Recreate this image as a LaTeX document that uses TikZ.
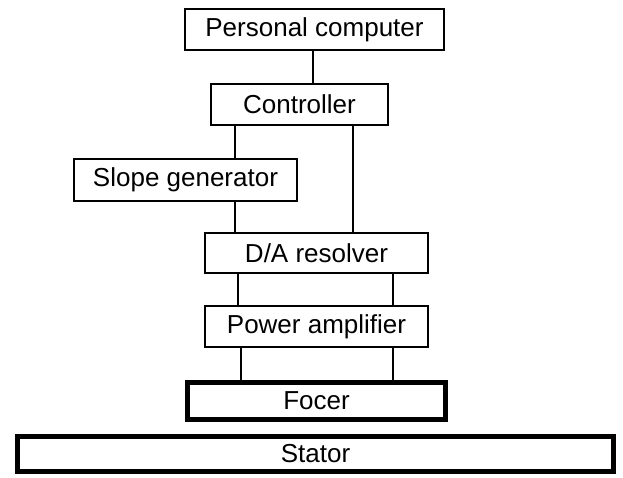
\documentclass[tikz,border=0pt]{standalone}
\usepackage{fontspec}
\setmainfont{Liberation Sans}
\begin{document}
\begin{tikzpicture}[x=1pt,y=-1pt,
  box/.style={draw=black,line width=2.4pt,rectangle,inner sep=0pt,font=\fontsize{26}{30}\selectfont},
  thickbox/.style={box,line width=5pt},
  link/.style={draw=black,line width=2.4pt}]
\useasboundingbox (0,0) rectangle (623,477);
\node[box,minimum width=259pt,minimum height=41pt] (pc) at (314.5,29.5) {Personal computer};
\node[box,minimum width=177pt,minimum height=41pt] (ctrl) at (299.5,104.5) {Controller};
\node[box,minimum width=223pt,minimum height=42pt] (slope) at (185.5,180) {Slope generator};
\node[box,minimum width=223pt,minimum height=40pt] (da) at (316.5,253) {D/A resolver};
\node[box,minimum width=223pt,minimum height=41pt] (pa) at (316.5,326.5) {Power amplifier};
\node[thickbox,minimum width=258pt,minimum height=37pt] (focer) at (316.5,401) {Focer};
\node[thickbox,minimum width=596pt,minimum height=35pt] (stator) at (315.5,454) {Stator};
\coordinate (xa) at (313,0);
\coordinate (xb) at (235,0);
\coordinate (xc) at (353,0);
\coordinate (xd) at (238,0);
\coordinate (xe) at (393,0);
\coordinate (xf) at (241,0);
\draw[link] (pc.south -| xa) -- (ctrl.north -| xa);
\draw[link] (ctrl.south -| xb) -- (slope.north -| xb);
\draw[link] (slope.south -| xb) -- (da.north -| xb);
\draw[link] (ctrl.south -| xc) -- (da.north -| xc);
\draw[link] (da.south -| xd) -- (pa.north -| xd);
\draw[link] (da.south -| xe) -- (pa.north -| xe);
\draw[link] (pa.south -| xf) -- (focer.north -| xf);
\draw[link] (pa.south -| xe) -- (focer.north -| xe);
\end{tikzpicture}
\end{document}
